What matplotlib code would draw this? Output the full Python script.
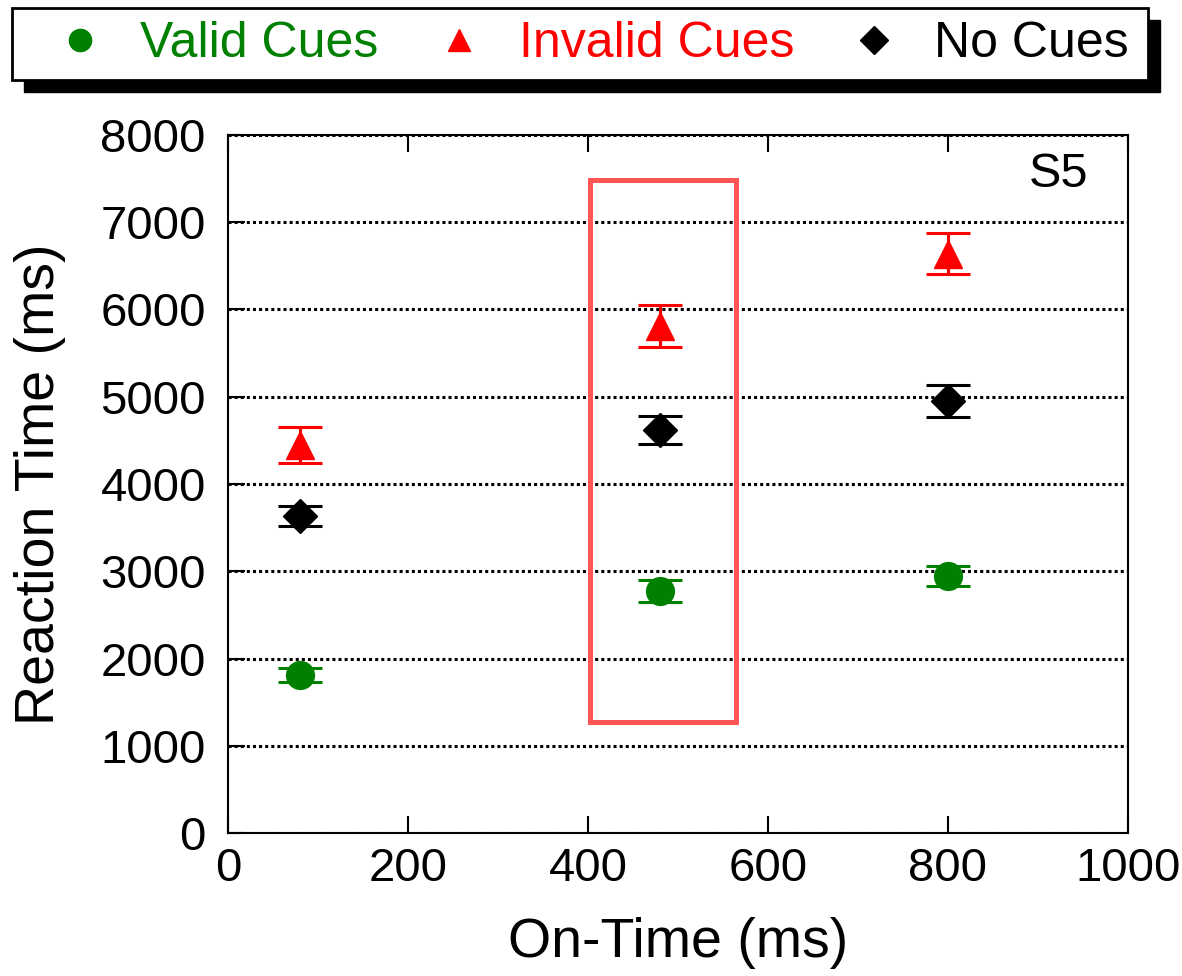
import matplotlib
matplotlib.use('Agg')
import matplotlib.pyplot as plt
from matplotlib.patches import Rectangle
from matplotlib.lines import Line2D

plt.rcParams['font.family'] = ['Liberation Sans', 'DejaVu Sans']

# data
on_time = [80, 480, 800]
valid = [1810, 2772, 2944]
valid_err = [80, 126, 115]
invalid = [4445, 5808, 6637]
invalid_err = [205, 240, 235]
no_cues = [3631, 4616, 4948]
no_cues_err = [115, 160, 183]

series_names = ['Valid Cues', 'Invalid Cues', 'No Cues']
series_colors = ['#008000', '#ff0000', '#000000']
series_markers = ['o', '^', 'D']

# highlight box (data coords)
box_x0, box_x1 = 402, 564
box_y0, box_y1 = 1270, 7480

fig = plt.figure(figsize=(11.82, 9.76), dpi=100)
ax = fig.add_axes([0.1929, 0.1465, 0.7614, 0.7152])

ys = [valid, invalid, no_cues]
errs = [valid_err, invalid_err, no_cues_err]
msizes = [20, 20, 17]
for y, e, c, m, ms in zip(ys, errs, series_colors, series_markers, msizes):
    ax.errorbar(on_time, y, yerr=e, fmt=m, color=c, ecolor=c, markersize=ms,
                capsize=16, elinewidth=2.2, capthick=2.2, zorder=3)

ax.add_patch(Rectangle((box_x0, box_y0), box_x1 - box_x0, box_y1 - box_y0,
                       fill=False, edgecolor='#ff5555', linewidth=3.6, zorder=4))

ax.set_xlim(0, 1000)
ax.set_ylim(0, 8000)
ax.set_xticks([0, 200, 400, 600, 800, 1000])
ax.set_yticks(range(0, 8001, 1000))
ax.yaxis.grid(True, color='black', linestyle=(0, (1, 1)), linewidth=2.2)
ax.set_axisbelow(True)
ax.tick_params(direction='in', length=12, width=1.5, labelsize=34, top=True,
               right=False)
ax.tick_params(axis='x', pad=10)
ax.tick_params(axis='y', pad=16)
for s in ax.spines.values():
    s.set_linewidth(1.5)

ax.set_xlabel('On-Time (ms)', fontsize=40, labelpad=19)
ax.set_ylabel('Reaction Time (ms)', fontsize=40, labelpad=25)
ax.text(0.956, 0.975, 'S5', transform=ax.transAxes, ha='right', va='top', fontsize=35)

# legend box with shadow
W, H = 1182, 976
lx0, ly0, lx1, ly1 = 12, 8, 1148, 80
sh = 12
bw, bh = (lx1 - lx0) / W, (ly1 - ly0) / H
fig.patches.append(Rectangle(((lx0 + sh) / W, 1 - (ly1 + sh) / H), bw, bh,
                             transform=fig.transFigure, facecolor='black',
                             edgecolor='black', zorder=1))
fig.patches.append(Rectangle((lx0 / W, 1 - ly1 / H), bw, bh,
                             transform=fig.transFigure, facecolor='white',
                             edgecolor='black', linewidth=2, zorder=2))

handles = [Line2D([], [], linestyle='none', marker=m, color=c, markersize=ms)
           for m, c, ms in zip(series_markers, series_colors, [16, 16, 14])]
leg = fig.legend(handles, series_names, loc='center', ncol=3, frameon=False,
                 bbox_to_anchor=((lx0 + lx1) / 2 / W + 12 / W, 1 - (ly0 + ly1) / 2 / H),
                 fontsize=36, handletextpad=0.7, columnspacing=1.1, handlelength=1.0)
for t, c in zip(leg.get_texts(), series_colors):
    t.set_color(c)
leg.set_zorder(5)

fig.savefig('out.png', dpi=100)
